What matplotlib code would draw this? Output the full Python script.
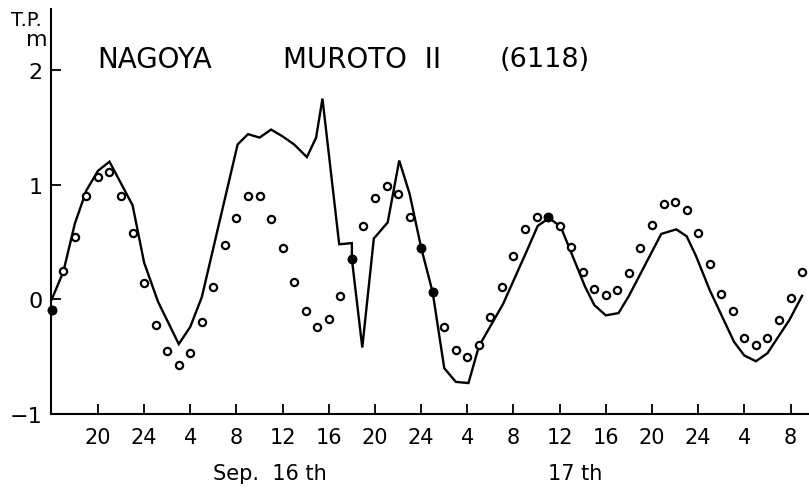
#!/usr/bin/env python3
import matplotlib
matplotlib.use("Agg")
import matplotlib.pyplot as plt

# hours counted from Sep. 16 00h (so 20 = Sep. 15 20h, 48 = Sep. 17 00h)
calc_hours = list(range(16, 82))
calc_level = [-0.09, 0.245, 0.54, 0.90, 1.07, 1.11, 0.90, 0.58, 0.14, -0.22,
              -0.45, -0.57, -0.47, -0.20, 0.11, 0.47, 0.71, 0.90, 0.90, 0.70,
              0.445, 0.15, -0.10, -0.24, -0.175, 0.03, 0.35, 0.64, 0.88, 0.99,
              0.92, 0.72, 0.45, 0.06, -0.24, -0.44, -0.50, -0.40, -0.155, 0.11,
              0.38, 0.61, 0.72, 0.72, 0.64, 0.46, 0.24, 0.09, 0.04, 0.08,
              0.23, 0.45, 0.65, 0.83, 0.845, 0.78, 0.58, 0.31, 0.045, -0.105,
              -0.335, -0.40, -0.34, -0.18, 0.01, 0.24]
# computed points that sit on the observed curve
filled_hours = [16, 42, 48, 49, 59]

obs_hours = [16, 17, 18, 19, 20, 21, 23, 24, 25.2, 27,
             28, 29, 32.1, 33, 34, 35, 36, 37, 38.1, 38.9,
             39.45, 40.9, 42, 42, 42.9, 43.9, 45.1, 46.1, 47, 48,
             49, 50, 51, 52.1, 53, 55.1, 57.1, 58.1, 59.1, 60.1,
             62.2, 63, 64, 65.1, 66, 68.8, 70.1, 71, 71.8, 73,
             75.1, 76, 77, 78, 79.9, 81]
obs_level = [0.0, 0.24, 0.66, 0.95, 1.12, 1.20, 0.82, 0.32, -0.02, -0.39,
             -0.24, 0.02, 1.35, 1.44, 1.41, 1.48, 1.42, 1.35, 1.24, 1.41,
             1.75, 0.48, 0.49, 0.35, -0.42, 0.53, 0.67, 1.21, 0.92, 0.45,
             0.06, -0.60, -0.72, -0.73, -0.41, -0.04, 0.41, 0.64, 0.71, 0.63,
             0.11, -0.05, -0.14, -0.12, 0.03, 0.57, 0.61, 0.55, 0.38, 0.08,
             -0.37, -0.49, -0.54, -0.47, -0.18, 0.03]

tick_hours = [20, 24, 28, 32, 36, 40, 44, 48, 52, 56, 60, 64, 68, 72, 76, 80]
tick_labels = ['20', '24', '4', '8', '12', '16', '20', '24',
               '4', '8', '12', '16', '20', '24', '4', '8']
y_ticks = [-1, 0, 1, 2]
y_labels = ['\u22121', '0', '1', '2']


def main():
    plt.rcParams['font.family'] = ['DejaVu Sans']
    fig = plt.figure(figsize=(8.09, 4.89), dpi=100)
    ax = fig.add_axes([0.063, 0.1513, 0.937, 0.828])

    ax.plot(obs_hours, obs_level, color='black', lw=1.7, solid_joinstyle='miter')
    ax.plot(calc_hours, calc_level, ls='none', marker='o', ms=5.2,
            mfc='white', mec='black', mew=1.6, clip_on=False)
    filled = [calc_level[calc_hours.index(h)] for h in filled_hours]
    ax.plot(filled_hours, filled, ls='none', marker='o', ms=6,
            color='black', clip_on=False, zorder=5)

    ax.set_xlim(15.93, 81.6)
    ax.set_ylim(-1, 2.53)
    for side in ('top', 'right'):
        ax.spines[side].set_visible(False)
    for side in ('left', 'bottom'):
        ax.spines[side].set_linewidth(1.5)

    ax.set_xticks(tick_hours)
    ax.set_xticklabels(tick_labels, fontsize=15)
    ax.set_yticks(y_ticks)
    ax.set_yticklabels(y_labels, fontsize=16)
    ax.tick_params(axis='x', direction='in', length=7, width=1.3, pad=9)
    ax.tick_params(axis='y', direction='in', length=7, width=1.3, pad=6)

    fig.text(270 / 809, 1 - 474 / 489, 'Sep.  16 th', fontsize=15,
             ha='center', va='center')
    fig.text(575 / 809, 1 - 474 / 489, '17 th', fontsize=15,
             ha='center', va='center')

    fig.text(26 / 809, 1 - 21 / 489, 'T.P.', fontsize=14, ha='center', va='center')
    fig.text(37 / 809, 1 - 40 / 489, 'm', fontsize=16, ha='center', va='center')

    fig.text(97 / 809, 1 - 60 / 489, 'NAGOYA', fontsize=20, ha='left', va='center')
    fig.text(283 / 809, 1 - 60 / 489, 'MUROTO  II', fontsize=20, ha='left', va='center')
    fig.text(500 / 809, 1 - 60 / 489, '(6118)', fontsize=19.5, ha='left', va='center')

    fig.savefig('out.png', dpi=100)


if __name__ == '__main__':
    main()
